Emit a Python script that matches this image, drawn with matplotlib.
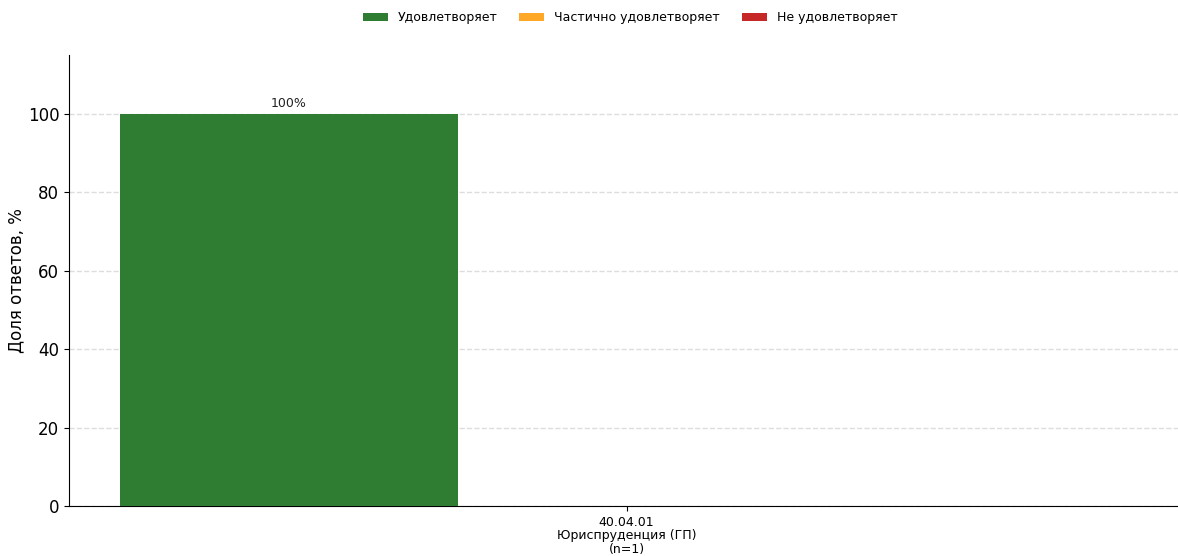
import matplotlib
matplotlib.use("Agg")
import matplotlib.pyplot as plt
import numpy as np

categories = ["40.04.01\nЮриспруденция (ГП)\n(n=1)"]
series_names = ["Удовлетворяет", "Частично удовлетворяет", "Не удовлетворяет"]
satisfied = [100]
partial = [0]
not_satisfied = [0]
colors = ["#2e7d32", "#ffa726", "#c62828"]

W, H = 1178, 556
fig = plt.figure(figsize=(W / 100, H / 100), dpi=100)
ax = fig.add_axes([69 / W, 1 - 506 / H, 1115 / W, (506 - 55) / H])

x = np.arange(len(categories))
width = 0.25
values = [satisfied, partial, not_satisfied]
for i, (name, vals, c) in enumerate(zip(series_names, values, colors)):
    bars = ax.bar(x + (i - 1) * width, vals, width, label=name, color=c, zorder=3)
    for b, v in zip(bars, vals):
        if v > 0:
            ax.text(b.get_x() + b.get_width() / 2, v + 0.9, f"{v:.0f}%",
                    ha="center", va="bottom", fontsize=9, color="#222222")

ax.set_ylim(0, 115)
ax.set_xticks(x)
ax.set_xticklabels(categories, fontsize=9, linespacing=1.05)
ax.tick_params(axis="y", labelsize=12)
ax.set_ylabel("Доля ответов, %", fontsize=12, labelpad=2)
ax.yaxis.grid(True, linestyle="--", color="#dddddd", linewidth=1, zorder=0)
ax.set_axisbelow(True)
ax.spines["top"].set_visible(False)
ax.spines["right"].set_visible(False)

fig.legend(loc="upper center", bbox_to_anchor=(0.535, 1.0), ncol=3, frameon=False,
           fontsize=9, handlelength=2, columnspacing=1.72)

fig.savefig("out.png", dpi=100)
